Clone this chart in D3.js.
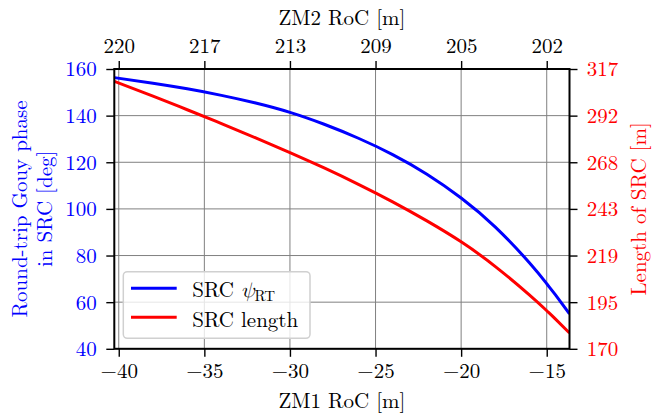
<!DOCTYPE html>
<html>
<head>
<meta charset="utf-8">
<script src="https://cdn.jsdelivr.net/npm/d3@7"></script>
</head>
<body style="margin:0;padding:0;background:#fff">
<svg id="chart" width="661" height="414" style="display:block"></svg>
<script>
// ---- data ----
const zm1Roc    = [-40.26, -38, -36, -34, -32, -30, -28, -26, -24, -22, -20, -18, -16, -15, -14.5, -13.67];
const gouyPhase = [156.3, 153.9, 151.5, 148.7, 145.4, 141.4, 136.3, 130.3, 123.3, 114.9, 104.7, 92.2, 76.8, 67.9, 63.2, 55.0];
const srcLength = [310.5, 302.7, 295.6, 288.3, 280.8, 273.1, 265.0, 256.4, 247.2, 237.2, 226.2, 213.2, 198.2, 190.0, 185.7, 178.3];

const bottomTicks = [-40, -35, -30, -25, -20, -15];
const topTickLabels = ["220", "217", "213", "209", "205", "202"];
const leftTicks = [40, 60, 80, 100, 120, 140, 160];
const rightTickLabels = ["170", "195", "219", "243", "268", "292", "317"];

const xDomain = [-40.26, -13.67];
const leftDomain = [40, 160];
const rightDomain = [170, 317];

// ---- layout ----
const FONT = "'Latin Modern Roman', 'Liberation Serif', serif";
const fs = 21;
const svg = d3.select("#chart");
const L = 114.3, R = 569.5, T = 69, B = 348.8;

const x = d3.scaleLinear().domain(xDomain).range([L, R]);
const yL = d3.scaleLinear().domain(leftDomain).range([B, T]);
const yR = d3.scaleLinear().domain(rightDomain).range([B, T]);
const rightTicks = rightTickLabels.map((d, i) => rightDomain[0] + i * (rightDomain[1] - rightDomain[0]) / (rightTickLabels.length - 1));

// grid
const grid = svg.append("g");
grid.selectAll("line.v").data(bottomTicks).join("line").attr("class", "v")
  .attr("x1", d => x(d)).attr("x2", d => x(d)).attr("y1", T).attr("y2", B)
  .attr("stroke", "#808080").attr("stroke-width", 1);
grid.selectAll("line.h").data(leftTicks).join("line").attr("class", "h")
  .attr("y1", d => yL(d)).attr("y2", d => yL(d)).attr("x1", L).attr("x2", R)
  .attr("stroke", "#808080").attr("stroke-width", 1);

// lines
const pts = zm1Roc.map((v, i) => ({x: v, g: gouyPhase[i], s: srcLength[i]}));
svg.append("clipPath").attr("id", "clip").append("rect")
  .attr("x", L).attr("y", T).attr("width", R - L).attr("height", B - T);
const lines = svg.append("g").attr("clip-path", "url(#clip)");
lines.append("path").datum(pts)
  .attr("fill", "none").attr("stroke", "#0000ff").attr("stroke-width", 3)
  .attr("d", d3.line().x(d => x(d.x)).y(d => yL(d.g)).curve(d3.curveNatural));
lines.append("path").datum(pts)
  .attr("fill", "none").attr("stroke", "#ff0000").attr("stroke-width", 3)
  .attr("d", d3.line().x(d => x(d.x)).y(d => yR(d.s)).curve(d3.curveNatural));

// axes
function styleAxis(g, color) {
  g.attr("font-family", FONT).attr("font-size", fs);
  g.select(".domain").remove();
  g.selectAll(".tick line").attr("stroke", "#000").attr("stroke-width", 1.4);
  g.selectAll(".tick text").attr("fill", color);
}
const gb = svg.append("g").attr("transform", `translate(0,${B})`)
  .call(d3.axisBottom(x).tickValues(bottomTicks).tickSize(8).tickSizeOuter(0).tickFormat(d3.format("d")));
styleAxis(gb, "#000");
gb.selectAll(".tick text").attr("dy", null).attr("y", 29.5);

const gt = svg.append("g").attr("transform", `translate(0,${T})`)
  .call(d3.axisTop(x).tickValues(bottomTicks).tickSize(8).tickSizeOuter(0).tickFormat((d, i) => topTickLabels[i]));
styleAxis(gt, "#000");
gt.selectAll(".tick text").attr("dy", null).attr("y", -15.7);

const gl = svg.append("g").attr("transform", `translate(${L},0)`)
  .call(d3.axisLeft(yL).tickValues(leftTicks).tickSize(8).tickSizeOuter(0).tickFormat(d3.format("d")));
styleAxis(gl, "#0000ff");
gl.selectAll(".tick text").attr("x", -17.6).attr("dy", "0.33em");

const gr = svg.append("g").attr("transform", `translate(${R},0)`)
  .call(d3.axisRight(yR).tickValues(rightTicks).tickSize(8).tickSizeOuter(0).tickFormat((d, i) => rightTickLabels[i]));
styleAxis(gr, "#ff0000");
gr.selectAll(".tick text").attr("x", 17.2).attr("dy", "0.33em");

// frame
svg.append("rect").attr("x", L).attr("y", T).attr("width", R - L).attr("height", B - T)
  .attr("fill", "none").attr("stroke", "#000").attr("stroke-width", 2);

// axis labels
svg.append("text").attr("x", (L + R) / 2).attr("y", 25).attr("text-anchor", "middle")
  .attr("font-family", FONT).attr("font-size", fs).attr("fill", "#000").text("ZM2 RoC [m]");
svg.append("text").attr("x", (L + R) / 2).attr("y", 408).attr("text-anchor", "middle")
  .attr("font-family", FONT).attr("font-size", fs).attr("fill", "#000").text("ZM1 RoC [m]");

const midY = (T + B) / 2;
const yl = svg.append("text").attr("transform", `translate(27.3,${midY}) rotate(-90)`)
  .attr("text-anchor", "middle").attr("font-family", FONT).attr("font-size", fs).attr("fill", "#0000ff");
yl.append("tspan").attr("x", 0).attr("y", 0).text("Round-trip Gouy phase");
yl.append("tspan").attr("x", 0).attr("y", 24.4).text("in SRC [deg]");

svg.append("text").attr("transform", `translate(645.5,${midY}) rotate(-90)`)
  .attr("text-anchor", "middle").attr("font-family", FONT).attr("font-size", fs)
  .attr("fill", "#ff0000").text("Length of SRC [m]");

// legend
const lg = svg.append("g");
lg.append("rect").attr("x", 123.3).attr("y", 271.7).attr("width", 186.7).attr("height", 66.6).attr("rx", 4)
  .attr("fill", "#fff").attr("fill-opacity", 0.8).attr("stroke", "#d0d0d0").attr("stroke-width", 1.5);
const legendItems = [{c: "#0000ff", y: 288.3}, {c: "#ff0000", y: 317.3}];
lg.selectAll("line").data(legendItems).join("line")
  .attr("x1", 131).attr("x2", 176.7).attr("y1", d => d.y).attr("y2", d => d.y)
  .attr("stroke", d => d.c).attr("stroke-width", 3);
const t1 = lg.append("text").attr("x", 192.3).attr("y", 297).attr("font-family", FONT).attr("font-size", fs);
t1.append("tspan").text("SRC ");
t1.append("tspan").attr("font-family", "'Latin Modern Math', 'Liberation Serif', serif").attr("font-style", "italic").text("ψ");
t1.append("tspan").attr("dy", 3.5).attr("font-size", 15).text("RT");
lg.append("text").attr("x", 192.3).attr("y", 326.5).attr("font-family", FONT).attr("font-size", fs).text("SRC length");
</script>
</body>
</html>
